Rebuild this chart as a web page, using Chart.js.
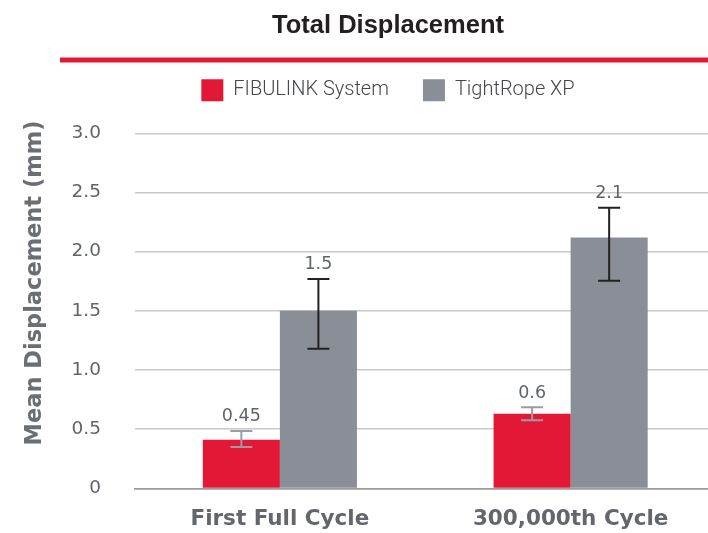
<!DOCTYPE html>
<html>
<head>
<meta charset="utf-8">
<script src="https://cdn.jsdelivr.net/npm/chart.js@4.4.1/dist/chart.umd.min.js"></script>
<style>
  html, body { margin: 0; padding: 0; background: #fff; overflow: hidden; }
  #wrap { width: 776px; height: 533px; }
</style>
</head>
<body>
<div id="wrap"><canvas id="chartTotal"></canvas></div>
<script>
const categories = ["First Full Cycle", "300,000th Cycle"];
const seriesNames = ["FIBULINK System", "TightRope XP"];

// bar heights as drawn
const fibulinkValues = [0.41, 0.63];
const tightropeValues = [1.5, 2.12];

// error bar ends
const fibulinkLow = [0.35, 0.575];
const fibulinkHigh = [0.485, 0.685];
const tightropeLow = [1.18, 1.755];
const tightropeHigh = [1.77, 2.37];

// printed value labels
const fibulinkLabels = ["0.45", "0.6"];
const tightropeLabels = ["1.5", "2.1"];

const yTickLabels = ["0", "0.5", "1.0", "1.5", "2.0", "2.5", "3.0"];

const RED = "#e31837";
const GREY = "#8a8e96";
const DEJAVU = "'DejaVu Sans', sans-serif";

Chart.defaults.font.family = "Roboto, 'Noto Sans', sans-serif";

const errLow = [fibulinkLow, tightropeLow];
const errHigh = [fibulinkHigh, tightropeHigh];
const valueLabels = [fibulinkLabels, tightropeLabels];
const errColors = ["#9a9ca1", "#222222"];

const extrasPlugin = {
    id: "extras",
    beforeInit(chart) {
        // leave room between the legend and the plot like the original
        const legend = chart.legend;
        const fit = legend.fit;
        legend.fit = function () {
            fit.call(this);
            this.height = 88;
        };
    },
    afterDatasetsDraw(chart) {
        const ctx = chart.ctx;
        const y = chart.scales.y;
        chart.data.datasets.forEach((ds, di) => {
            const meta = chart.getDatasetMeta(di);
            meta.data.forEach((bar, i) => {
                const yl = y.getPixelForValue(errLow[di][i]);
                const yh = y.getPixelForValue(errHigh[di][i]);
                ctx.save();
                ctx.strokeStyle = errColors[di];
                ctx.lineWidth = 2;
                ctx.beginPath();
                ctx.moveTo(bar.x, yl);
                ctx.lineTo(bar.x, yh);
                ctx.moveTo(bar.x - 11, yl);
                ctx.lineTo(bar.x + 11, yl);
                ctx.moveTo(bar.x - 11, yh);
                ctx.lineTo(bar.x + 11, yh);
                ctx.stroke();
                ctx.fillStyle = "#5f636b";
                ctx.font = "17.5px " + DEJAVU;
                ctx.textAlign = "center";
                ctx.textBaseline = "alphabetic";
                ctx.fillText(valueLabels[di][i], bar.x, yh - 9.5);
                ctx.restore();
            });
        });
    },
    afterDraw(chart) {
        const ctx = chart.ctx;
        ctx.save();
        // red rule under the title
        ctx.fillStyle = RED;
        ctx.fillRect(60, 57.5, chart.width - 60, 5);
        // y axis title
        ctx.translate(41.4, 283);
        ctx.rotate(-Math.PI / 2);
        ctx.font = "bold 22.5px " + DEJAVU;
        ctx.fillStyle = "#6b6e75";
        ctx.textAlign = "center";
        ctx.textBaseline = "alphabetic";
        ctx.fillText("Mean Displacement (mm)", 0, 0);
        ctx.restore();
    }
};

const config = {
    type: "bar",
    data: {
        labels: categories,
        datasets: [
            {
                label: seriesNames[0],
                data: fibulinkValues,
                backgroundColor: RED,
                borderWidth: 0,
                categoryPercentage: 0.53,
                barPercentage: 1.0,
            },
            {
                label: seriesNames[1],
                data: tightropeValues,
                backgroundColor: GREY,
                borderWidth: 0,
                categoryPercentage: 0.53,
                barPercentage: 1.0,
            },
        ],
    },
    options: {
        responsive: true,
        maintainAspectRatio: false,
        animation: false,
        layout: { padding: 0 },
        plugins: {
            title: {
                display: true,
                text: "Total Displacement",
                color: "#231f20",
                font: { family: "'Liberation Sans', Arial, sans-serif", size: 25.5, weight: "bold" },
                padding: { top: 11, bottom: 3.7 },
            },
            legend: {
                display: true,
                labels: {
                    boxWidth: 22,
                    boxHeight: 22,
                    padding: 34,
                    color: "#45474c",
                    font: { size: 20, weight: "300" },
                },
            },
            tooltip: { enabled: false },
        },
        scales: {
            x: {
                afterFit: (scale) => { scale.height = 43.7; },
                grid: { display: false, drawTicks: false },
                border: { display: true, color: "#9a9a9a", width: 1.5 },
                ticks: {
                    color: "#63666d",
                    font: { family: DEJAVU, size: 21.5, weight: "bold" },
                    padding: 18.5,
                    maxRotation: 0,
                    minRotation: 0,
                    autoSkip: false,
                },
            },
            y: {
                min: 0,
                max: 3,
                afterFit: (scale) => { scale.width = 134.5; },
                grid: {
                    drawTicks: false,
                    lineWidth: 1.5,
                    color: (c) => (c.tick && c.tick.value === 0 ? "#9a9a9a" : "#c8c8c8"),
                },
                border: { display: false },
                ticks: {
                    stepSize: 0.5,
                    padding: 33.5,
                    color: "#5f636b",
                    font: { family: DEJAVU, size: 18.5 },
                    callback: (v, i) => yTickLabels[i],
                },
            },
            yRight: {
                type: "linear",
                axis: "y",
                position: "right",
                afterFit: (scale) => { scale.width = 60; },
                grid: { display: false, drawTicks: false },
                border: { display: false },
                ticks: { display: false },
            },
        },
    },
    plugins: [extrasPlugin],
};

new Chart(document.getElementById("chartTotal"), config);
</script>
</body>
</html>
